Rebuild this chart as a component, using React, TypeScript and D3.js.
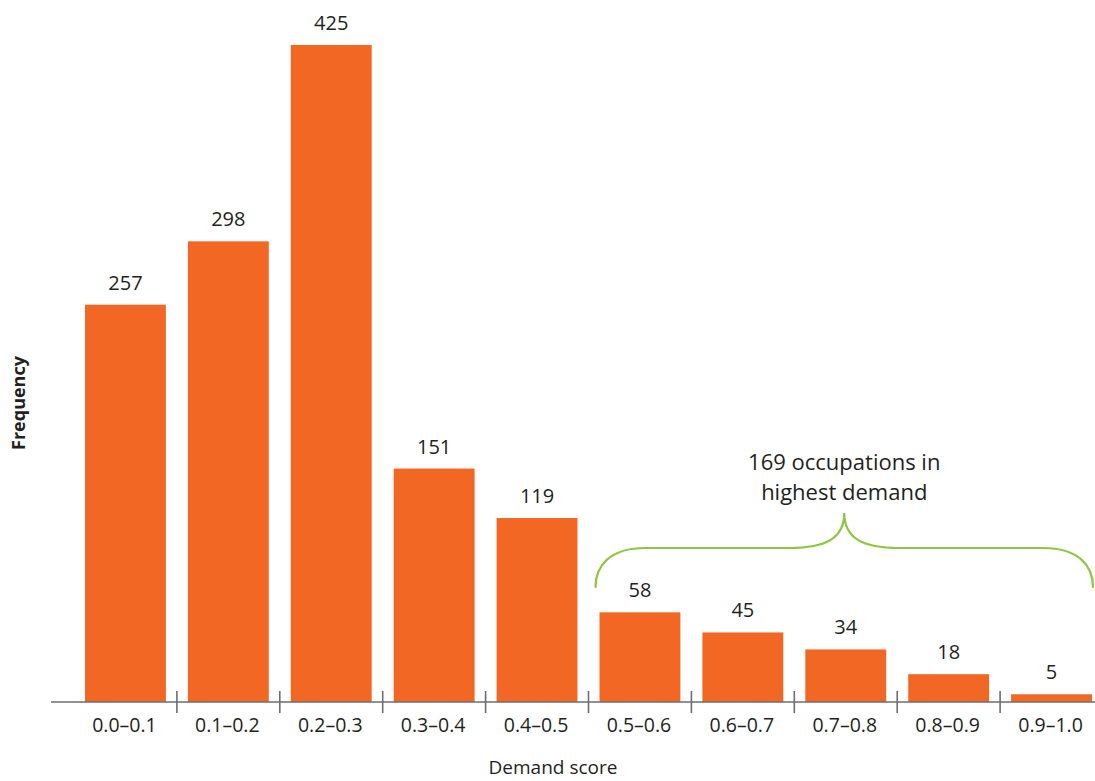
import React from "react";
import * as d3 from "d3";

// Occupations by demand score bin
const categories = [
  "0.0–0.1", "0.1–0.2", "0.2–0.3", "0.3–0.4", "0.4–0.5",
  "0.5–0.6", "0.6–0.7", "0.7–0.8", "0.8–0.9", "0.9–1.0",
];
const frequencies = [257, 298, 425, 151, 119, 58, 45, 34, 18, 5];

// Bins grouped by the brace annotation
const highDemandFirst = "0.5–0.6";
const highDemandLast = "0.9–1.0";
const annotationLines = ["169 occupations in", "highest demand"];

const xAxisTitle = "Demand score";
const yAxisTitle = "Frequency";

const W = 1095;
const H = 781;
const FONT = "'Open Sans', 'Noto Sans', sans-serif";
const BAR = "#F26724";
const TEXT = "#231F20";
const AXIS = "#6D6E71";
const BRACE = "#8DC63F";

export default function App() {
  const x = d3
    .scaleBand<string>()
    .domain(categories)
    .range([74, 1103])
    .paddingInner(0.214)
    .paddingOuter(0.107);
  const y = d3.scaleLinear().domain([0, 425]).range([702, 45]);
  const baseY = y(0);
  const bw = x.bandwidth();
  const step = x.step();

  // Separator ticks sit halfway between neighbouring bars
  const separators = categories.slice(1).map((c) => (x(c) as number) - (step - bw) / 2);

  // Brace spanning the high-demand bins
  const bx0 = (x(highDemandFirst) as number) - 4;
  const bx1 = (x(highDemandLast) as number) + bw + 1;
  const bm = (bx0 + bx1) / 2;
  const yEnd = 587;
  const yMid = 548;
  const yTip = 513;
  const r = 40;
  const bracePath = [
    `M${bx0},${yEnd}`,
    `C${bx0},${yMid + 18} ${bx0 + 14},${yMid} ${bx0 + r + 10},${yMid}`,
    `L${bm - 55},${yMid}`,
    `C${bm - 18},${yMid} ${bm},${yMid - 10} ${bm},${yTip}`,
    `C${bm},${yMid - 10} ${bm + 18},${yMid} ${bm + 55},${yMid}`,
    `L${bx1 - r - 10},${yMid}`,
    `C${bx1 - 14},${yMid} ${bx1},${yMid + 18} ${bx1},${yEnd}`,
  ].join(" ");

  return (
    <svg
      width={W}
      height={H}
      style={{ position: "absolute", left: 0, top: 0, background: "#fff" }}
      fontFamily={FONT}
    >
      {categories.map((c, i) => (
        <rect
          key={c}
          x={x(c)}
          y={y(frequencies[i])}
          width={bw}
          height={baseY - y(frequencies[i])}
          fill={BAR}
        />
      ))}
      {categories.map((c, i) => (
        <text
          key={"v" + c}
          x={(x(c) as number) + bw / 2}
          y={y(frequencies[i]) - 15}
          textAnchor="middle"
          fontSize={20}
          fill={TEXT}
        >
          {frequencies[i]}
        </text>
      ))}

      <line x1={51} x2={W} y1={baseY} y2={baseY} stroke={AXIS} strokeWidth={1.6} />
      {separators.map((sx, i) => (
        <line key={"t" + i} x1={sx} x2={sx} y1={baseY - 11} y2={baseY + 11} stroke={AXIS} strokeWidth={1.6} />
      ))}
      {categories.map((c) => (
        <text
          key={"l" + c}
          x={(x(c) as number) + bw / 2 - 1}
          y={732}
          textAnchor="middle"
          fontSize={19.5}
          fill={TEXT}
        >
          {c}
        </text>
      ))}

      <text x={553} y={774} textAnchor="middle" fontSize={19} fill={TEXT}>
        {xAxisTitle}
      </text>
      <text
        transform="translate(25,403) rotate(-90)"
        textAnchor="middle"
        fontSize={18}
        fontWeight="bold"
        fill={TEXT}
      >
        {yAxisTitle}
      </text>

      <path d={bracePath} fill="none" stroke={BRACE} strokeWidth={2.2} strokeLinecap="round" />
      {annotationLines.map((line, i) => (
        <text key={"a" + i} x={bm} y={470 + i * 30} textAnchor="middle" fontSize={22} fill={TEXT}>
          {line}
        </text>
      ))}
    </svg>
  );
}
